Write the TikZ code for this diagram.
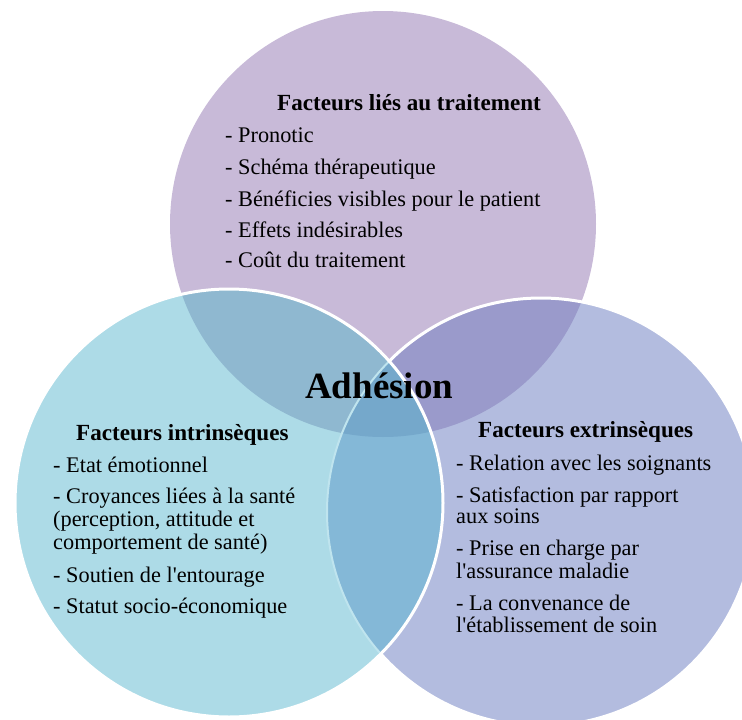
\documentclass[tikz,border=0pt]{standalone}
\usepackage{fontspec}
\setmainfont{Liberation Serif}
\begin{document}
\begin{tikzpicture}[x=1pt,y=-1pt,
  head/.style={anchor=base west, inner sep=0pt, font=\bfseries\fontsize{23.1}{27}\selectfont},
  item/.style={anchor=base west, inner sep=0pt, font=\fontsize{22.3}{26}\selectfont},
  title/.style={anchor=base west, inner sep=0pt, font=\bfseries\fontsize{37}{41}\selectfont},
  ring/.style={draw=white, line width=3pt}]
\definecolor{cT}{HTML}{C8BAD8}
\definecolor{cL}{HTML}{ADDBE7}
\definecolor{cR}{HTML}{B3BCDF}
\definecolor{cTL}{HTML}{8FB8D0}
\definecolor{cTR}{HTML}{9A9ACB}
\definecolor{cLR}{HTML}{84B8D7}
\definecolor{cTLR}{HTML}{75A8CB}
\definecolor{cFaint}{HTML}{BFE4EE}
\useasboundingbox (0,0) rectangle (742,720);
\clip (0,0) rectangle (742,720);
\coordinate (cTop) at (383,224);
\coordinate (cLeft) at (229,503);
\coordinate (cRight) at (541,512);
% top circle
\fill[cT] (cTop) circle (213);
% right circle
\fill[cR] (cRight) circle (214);
\begin{scope}
  \clip (cRight) circle (214);
  \fill[cTR] (cTop) circle (213);
\end{scope}
\draw[ring] (cRight) circle (214);
% left circle
\fill[cL] (cLeft) circle (214);
\begin{scope}
  \clip (cLeft) circle (214);
  \fill[cTL] (cTop) circle (213);
  \fill[cLR] (cRight) circle (214);
  \clip (cRight) circle (214);
  \fill[cTLR] (cTop) circle (213);
\end{scope}
\begin{scope}
  \clip (cLeft) circle (214);
  \draw[cFaint, line width=2pt] (cRight) circle (214);
\end{scope}
\draw[ring] (cLeft) circle (214);
% title
\node[title] (adh) at (305,398) {Adhésion};
% top texts
\node[head] (ht) at (277,110) {Facteurs liés au traitement};
\node[item] (t1) at (225,142) {- Pronotic};
\node[item] (t2) at (225,174) {- Schéma thérapeutique};
\node[item] (t3) at (225,206) {- Bénéficies visibles pour le patient};
\node[item] (t4) at (225,237) {- Effets indésirables};
\node[item] (t5) at (225,267) {- Coût du traitement};
% left texts
\node[head] (hl) at (76,440) {Facteurs intrinsèques};
\node[item] (l1) at (53,472) {- Etat émotionnel};
\node[item] (l2a) at (53,503) {- Croyances liées à la santé};
\node[item] (l2b) at (53,526) {(perception, attitude et};
\node[item] (l2c) at (53,549) {comportement de santé)};
\node[item] (l3) at (53,582) {- Soutien de l\textquotesingle entourage};
\node[item] (l4) at (53,613) {- Statut socio-économique};
% right texts
\node[head] (hr) at (478,437) {Facteurs extrinsèques};
\node[item] (r1) at (456,470) {- Relation avec les soignants};
\node[item] (r2a) at (456,502) {- Satisfaction par rapport};
\node[item] (r2b) at (456,523) {aux soins};
\node[item] (r3a) at (456,555) {- Prise en charge par};
\node[item] (r3b) at (456,578) {l\textquotesingle assurance maladie};
\node[item] (r4a) at (456,610) {- La convenance de};
\node[item] (r4b) at (456,632) {l\textquotesingle établissement de soin};
\end{tikzpicture}
\end{document}
